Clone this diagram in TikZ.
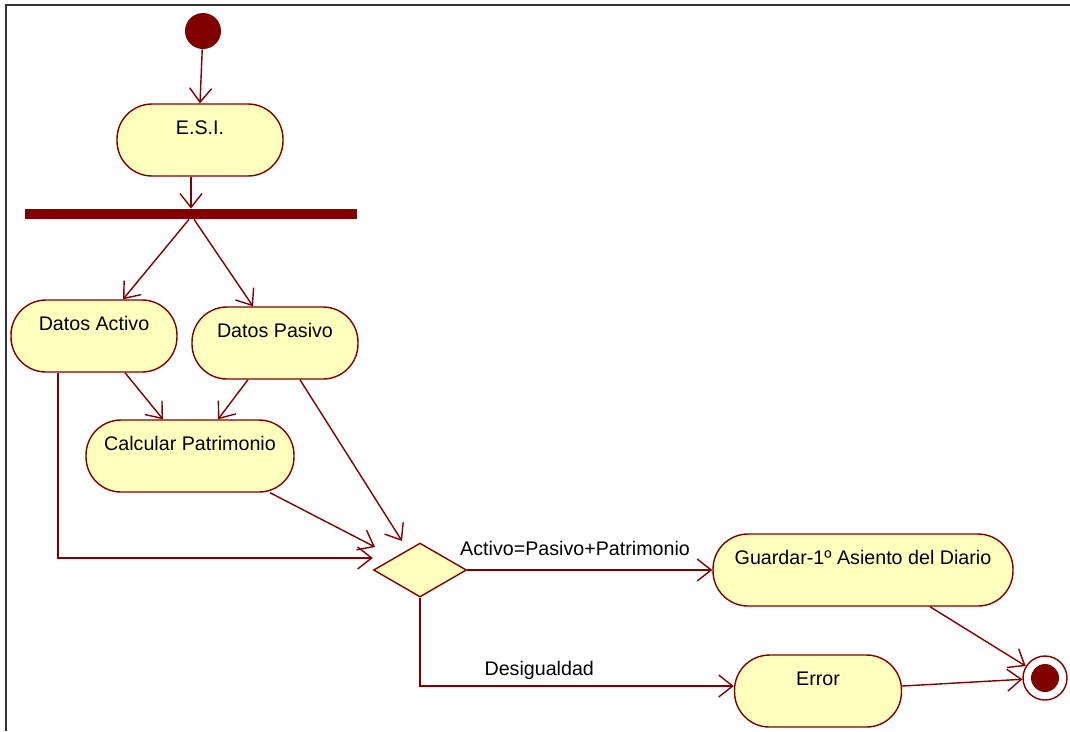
\documentclass[tikz,border=0pt]{standalone}
\usepackage{fontspec}
\setmainfont{Liberation Sans}
\usetikzlibrary{arrows.meta}
\usetikzlibrary{shapes.geometric}
\definecolor{umlred}{RGB}{128,0,0}
\definecolor{umlfill}{RGB}{255,255,190}

\begin{document}
\begin{tikzpicture}[
    x=0.02cm, y=-0.02cm,
    activity/.style={rectangle, rounded corners=0.7cm, draw=umlred, fill=umlfill, line width=0.8pt,
        minimum height=1.44cm, text height=0.3cm, text depth=0.54cm, font=\fontsize{11.2}{13}\selectfont},
    decision/.style={diamond, draw=umlred, fill=umlfill, line width=0.8pt,
        minimum width=1.86cm, minimum height=1.08cm, inner sep=0pt},
    startnode/.style={circle, fill=umlred, minimum size=0.72cm, inner sep=0pt},
    endnode/.style={circle, draw=umlred, fill=white, line width=0.8pt, minimum size=0.88cm, inner sep=0pt,
        path picture={\fill[umlred] (path picture bounding box.center) circle (0.28cm);}},
    forkbar/.style={rectangle, fill=umlred, minimum width=6.66cm, minimum height=0.2cm, inner sep=0pt},
    flow/.style={draw=umlred, line width=0.8pt, -{Straight Barb[length=2.8mm, width=4.4mm]}},
    guard/.style={font=\fontsize{11.2}{13}\selectfont, inner sep=2pt}
]
\useasboundingbox (0,0) rectangle (1070,731);

% --- Frame ---
\draw[line width=1.2pt, black!80] (6,731) -- (6,5) -- (1070,5);

% --- Start, first activity and fork ---
\node[startnode] (start) at (203,31) {};
\node[activity, minimum width=3.32cm] (esi) at (200,140) {E.S.I.};
\node[forkbar] (fork) at (191,214) {};

% --- Parallel activities ---
\node[activity, minimum width=3.32cm] (activo) at (94,336) {Datos Activo};
\node[activity, minimum width=3.32cm] (pasivo) at (275,343) {Datos Pasivo};
\node[activity, minimum width=4.16cm] (calc) at (190,456) {Calcular Patrimonio};

% --- Decision and outcomes ---
\node[decision] (dec) at (420,570) {};
\node[activity, minimum width=6cm] (guardar) at (863,570) {Guardar-1º Asiento del Diario};
\node[activity, minimum width=3.34cm] (error) at (818,691) {Error};
\node[endnode] (final) at (1045,678) {};

% --- Merge points in front of the decision ---
\coordinate (in1) at (375,547);
\coordinate (in2) at (402,541);

% --- Flows ---
\draw[flow] (start) -- (esi.north);
\draw[flow] (esi.south -| fork.center) -- (fork.north);
\draw[flow] ([xshift=-0.04cm]fork.south) -- ([xshift=0.58cm]activo.north);
\draw[flow] ([xshift=0.06cm]fork.south) -- ([xshift=-0.44cm]pasivo.north);
\draw[flow] ([xshift=0.62cm]activo.south) -- ([xshift=-0.54cm]calc.north);
\draw[flow] ([xshift=-0.54cm]pasivo.south) -- ([xshift=0.56cm]calc.north);
\draw[flow] ([xshift=1.6cm]calc.south) -- (in1);
\draw[flow] ([xshift=0.5cm]pasivo.south) -- (in2);
\draw[flow] ([xshift=-0.72cm]activo.south) |- ([yshift=0.24cm]dec.west);
\draw[flow] (dec.east) -- (guardar.west) node[guard, pos=0.44, above=6pt] {Activo=Pasivo+Patrimonio};
\draw[flow] (dec.south) |- ([yshift=0.1cm]error.west) node[guard, pos=0.69, above=1pt] {Desigualdad};
\draw[flow] ([xshift=1.34cm]guardar.south) -- (final);
\draw[flow] ([yshift=0.1cm]error.east) -- (final);

\end{tikzpicture}
\end{document}
